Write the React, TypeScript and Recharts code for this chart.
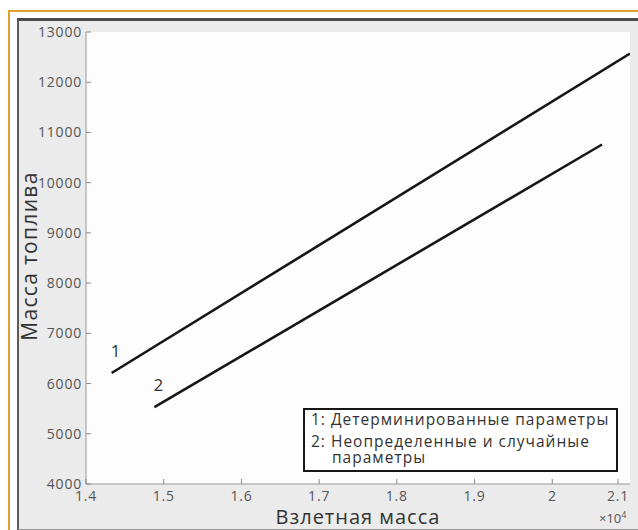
import React from "react";
import { LineChart, Line, XAxis, YAxis, CartesianGrid } from "recharts";

// takeoff mass (kg) vs fuel mass (kg)
const xDetermined = [14330, 21000];
const yDetermined = [6210, 12570];
const xUncertain = [14880, 20640];
const yUncertain = [5530, 10760];

const xTicks = [14000, 15000, 16000, 17000, 18000, 19000, 20000, 21000];
const yTicks = [4000, 5000, 6000, 7000, 8000, 9000, 10000, 11000, 12000, 13000];

const seriesNames = [
  "Детерминированные параметры",
  "Неопределенные и случайные параметры",
];
const seriesTags = ["1", "2"];

const determinedData = xDetermined.map((x, i) => ({ x, y: yDetermined[i] }));
const uncertainData = xUncertain.map((x, i) => ({ x, y: yUncertain[i] }));

const FONT = "'Open Sans', sans-serif";
const TICK_TEXT = "#555";
const TICK_LINE = "#8a8a8a";

function BottomTick(props: any) {
  const { x, y, payload } = props;
  return (
    <g>
      <line x1={x} x2={x} y1={y} y2={y - 5} stroke={TICK_LINE} />
      <text x={x} y={y + 17} textAnchor="middle" fill={TICK_TEXT} fontSize={14} letterSpacing={0.8} fontFamily={FONT}>
        {String(payload.value / 10000)}
      </text>
    </g>
  );
}

function TopTick(props: any) {
  const { x, y } = props;
  return <line x1={x} x2={x} y1={y} y2={y + 5} stroke={TICK_LINE} />;
}

function LeftTick(props: any) {
  const { x, y, payload } = props;
  return (
    <g>
      <line x1={x} x2={x + 5} y1={y} y2={y} stroke={TICK_LINE} />
      <text x={x - 4} y={y + 5} textAnchor="end" fill={TICK_TEXT} fontSize={14} letterSpacing={0.8} fontFamily={FONT}>
        {payload.value}
      </text>
    </g>
  );
}

function RightTick(props: any) {
  const { x, y } = props;
  return <line x1={x} x2={x - 5} y1={y} y2={y} stroke={TICK_LINE} />;
}

// number tag ("1" / "2") placed above the first point of a line
function startTag(tag: string) {
  return (props: any) => {
    const { x, y, index } = props;
    if (index !== 0) return null;
    return (
      <text x={x + 4} y={y - 16} textAnchor="middle" fill="#333" fontSize={17} fontFamily={FONT}>
        {tag}
      </text>
    );
  };
}

// legend box in the lower right corner of the plot, matplotlib-like spacing
function LegendBox() {
  const words = seriesNames[1].split(" ");
  const wrapped = [words.slice(0, 3).join(" "), words.slice(3).join(" ")];
  const txt = { fontFamily: FONT, fontSize: 15.5, letterSpacing: 1, fill: "#333" };
  return (
    <svg
      width={638}
      height={530}
      style={{ position: "absolute", left: 0, top: 0, pointerEvents: "none" }}
    >
      <rect x={304} y={409} width={313} height={62} fill="#fff" stroke="#161616" strokeWidth={2} />
      <text x={311} y={425} {...txt}>{`${seriesTags[0]}: ${seriesNames[0]}`}</text>
      <text x={311} y={447} {...txt}>{`${seriesTags[1]}: ${wrapped[0]}`}</text>
      <text x={332} y={463} {...txt}>{wrapped[1]}</text>
    </svg>
  );
}

export default function App() {
  return (
    <div
      style={{
        position: "absolute",
        left: 0,
        top: 0,
        width: 638,
        height: 530,
        background: "#fff",
        overflow: "hidden",
      }}
    >
      {/* orange frame */}
      <div
        style={{
          position: "absolute",
          left: 8,
          top: 10,
          width: 660,
          height: 560,
          border: "2px solid #e2a033",
        }}
      />
      {/* grey panel */}
      <div
        style={{
          position: "absolute",
          left: 17,
          top: 18,
          width: 640,
          height: 508,
          background: "#ebebeb",
          borderTop: "3px solid #4a4a4a",
          borderLeft: "2px solid #5a5a5a",
          borderBottom: "1px solid #999",
        }}
      />
      <div style={{ position: "absolute", left: 0, top: 0 }}>
        <LineChart
          width={638}
          height={530}
          margin={{ top: 32, right: 8, left: 36, bottom: 16 }}
        >
          <CartesianGrid horizontal={false} vertical={false} fill="#fdfdfd" />
          <XAxis
            dataKey="x"
            type="number"
            domain={[14000, 21000]}
            ticks={xTicks}
            height={30}
            tickSize={0}
            tickMargin={0}
            tickLine={false}
            axisLine={{ stroke: "#999" }}
            tick={<BottomTick />}
            allowDataOverflow
          />
          <XAxis
            xAxisId="top"
            orientation="top"
            dataKey="x"
            type="number"
            domain={[14000, 21000]}
            ticks={xTicks}
            height={0}
            tickSize={0}
            tickMargin={0}
            tickLine={false}
            axisLine={{ stroke: "#999" }}
            tick={<TopTick />}
            allowDataOverflow
          />
          <YAxis
            type="number"
            domain={[4000, 13000]}
            ticks={yTicks}
            width={50}
            tickSize={0}
            tickMargin={0}
            tickLine={false}
            axisLine={{ stroke: "#999" }}
            tick={<LeftTick />}
            allowDataOverflow
          />
          <YAxis
            yAxisId="right"
            orientation="right"
            type="number"
            domain={[4000, 13000]}
            ticks={yTicks}
            width={0}
            tickSize={0}
            tickMargin={0}
            tickLine={false}
            axisLine={{ stroke: "#999" }}
            tick={<RightTick />}
            allowDataOverflow
          />
          <Line
            data={determinedData}
            dataKey="y"
            name={seriesNames[0]}
            stroke="#161616"
            strokeWidth={2.6}
            dot={false}
            isAnimationActive={false}
            label={startTag(seriesTags[0])}
          />
          <Line
            data={uncertainData}
            dataKey="y"
            name={seriesNames[1]}
            stroke="#161616"
            strokeWidth={2.6}
            dot={false}
            isAnimationActive={false}
            label={startTag(seriesTags[1])}
          />
        </LineChart>
      </div>
      <LegendBox />
      {/* axis titles */}
      <div
        style={{
          position: "absolute",
          left: 86,
          width: 544,
          top: 507,
          lineHeight: "19px",
          textAlign: "center",
          fontFamily: FONT,
          fontSize: 20,
          letterSpacing: 1,
          color: "#333",
        }}
      >
        Взлетная масса
      </div>
      <div
        style={{
          position: "absolute",
          left: 29,
          top: 256,
          lineHeight: "21px",
          transform: "translate(-50%, -50%) rotate(-90deg)",
          whiteSpace: "nowrap",
          fontFamily: FONT,
          fontSize: 21,
          letterSpacing: 1.3,
          color: "#333",
        }}
      >
        Масса топлива
      </div>
      <div
        style={{
          position: "absolute",
          left: 599,
          top: 510,
          lineHeight: "14px",
          fontFamily: FONT,
          fontSize: 13,
          color: "#555",
        }}
      >
        ×10<sup style={{ fontSize: 9, lineHeight: "9px" }}>4</sup>
      </div>
    </div>
  );
}
